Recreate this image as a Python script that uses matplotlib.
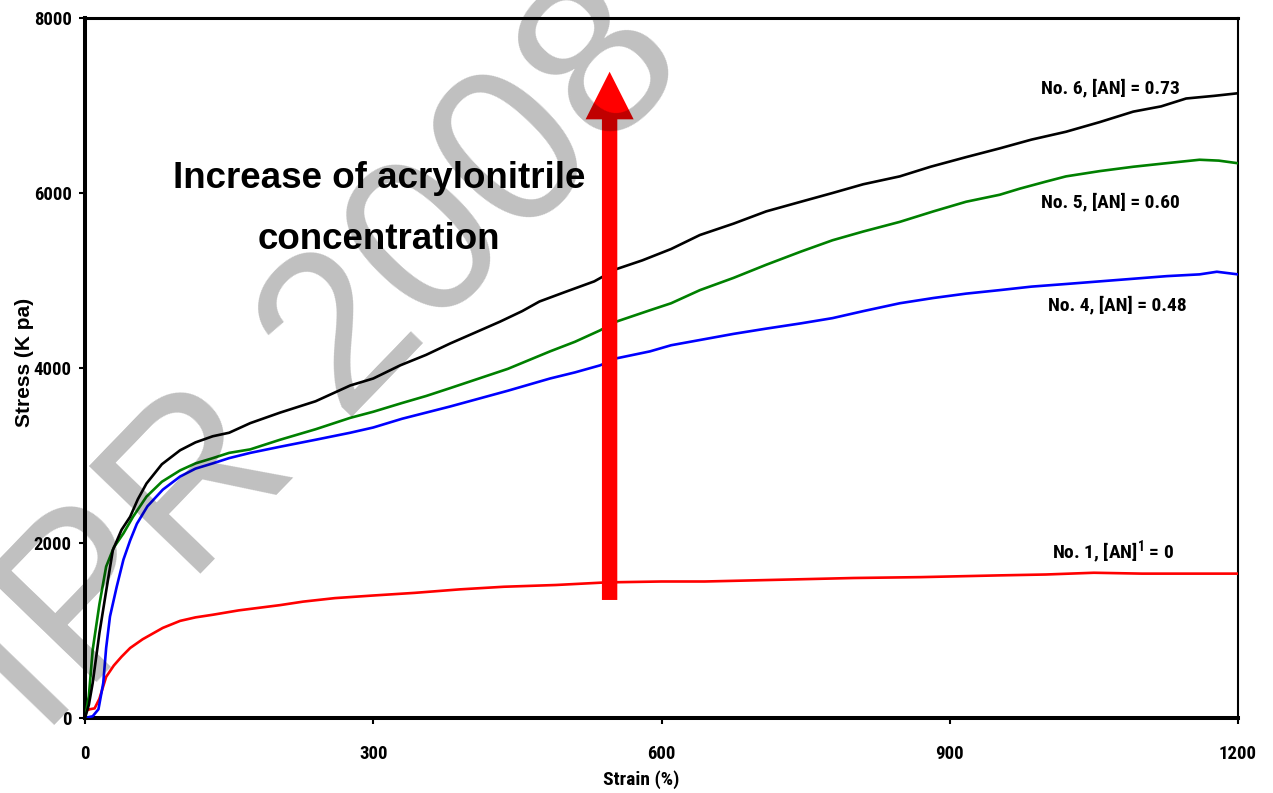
import matplotlib
matplotlib.use("Agg")
import matplotlib.pyplot as plt
from matplotlib import font_manager

# tensile curves (strain %, stress kPa)
strain_no6 = [0, 4, 8, 15, 22, 29, 38, 47, 55, 64, 80, 99, 115, 133, 150, 172, 203, 240, 276, 300,
              328, 355, 380, 405, 432, 455, 473, 500, 530, 553, 580, 610, 640, 675, 709, 745, 778,
              810, 848, 880, 917, 952, 985, 1021, 1056, 1091, 1120, 1146, 1175, 1200]
stress_no6 = [0, 150, 400, 970, 1450, 1920, 2150, 2300, 2500, 2680, 2900, 3060, 3150, 3220, 3260,
              3370, 3490, 3620, 3800, 3880, 4030, 4150, 4280, 4400, 4530, 4650, 4760, 4870, 4990,
              5130, 5230, 5360, 5520, 5650, 5790, 5900, 6000, 6100, 6190, 6300, 6410, 6510, 6610,
              6700, 6810, 6930, 6990, 7080, 7110, 7140]

strain_no5 = [0, 4, 8, 15, 22, 30, 40, 50, 64, 80, 99, 115, 133, 150, 172, 203, 240, 276, 300, 330,
              355, 380, 410, 440, 484, 510, 536, 553, 588, 610, 640, 675, 709, 745, 778, 810, 848,
              883, 917, 952, 973, 1000, 1021, 1056, 1091, 1125, 1160, 1180, 1200]
stress_no5 = [0, 250, 780, 1300, 1730, 1950, 2110, 2300, 2530, 2700, 2830, 2910, 2970, 3030, 3070,
              3180, 3300, 3430, 3500, 3600, 3680, 3770, 3880, 3990, 4190, 4300, 4430, 4530, 4660,
              4740, 4890, 5030, 5180, 5330, 5460, 5560, 5670, 5790, 5900, 5980, 6050, 6130, 6190,
              6250, 6300, 6340, 6380, 6370, 6340]

strain_no4 = [0, 8, 14, 19, 22, 26, 33, 40, 47, 54, 65, 81, 99, 115, 133, 150, 172, 203, 240, 276,
              300, 330, 355, 380, 410, 440, 484, 510, 536, 553, 588, 610, 640, 675, 709, 745, 778,
              810, 848, 883, 917, 952, 985, 1021, 1056, 1091, 1126, 1160, 1178, 1200]
stress_no4 = [0, 20, 100, 400, 800, 1160, 1500, 1810, 2030, 2220, 2420, 2610, 2760, 2850, 2910,
              2970, 3030, 3100, 3180, 3260, 3320, 3420, 3490, 3560, 3650, 3740, 3880, 3950, 4030,
              4110, 4190, 4260, 4320, 4390, 4450, 4510, 4570, 4650, 4740, 4800, 4850, 4890, 4930,
              4960, 4990, 5020, 5050, 5070, 5100, 5070]

strain_no1 = [0, 5, 10, 15, 22, 30, 38, 47, 60, 81, 99, 115, 133, 160, 203, 227, 260, 300, 343,
              390, 436, 490, 543, 600, 645, 723, 800, 870, 952, 1000, 1050, 1100, 1150, 1200]
stress_no1 = [80, 100, 110, 220, 470, 600, 700, 800, 900, 1030, 1110, 1150, 1180, 1230, 1290, 1330,
              1370, 1400, 1430, 1470, 1500, 1520, 1550, 1560, 1560, 1580, 1600, 1610, 1630, 1640,
              1660, 1650, 1650, 1650]

series_labels = ["No. 6, [AN] = 0.73", "No. 5, [AN] = 0.60", "No. 4, [AN] = 0.48",
                 "No. 1, [AN]$^{1}$ = 0"]
x_ticks = [0, 300, 600, 900, 1200]
y_ticks = [0, 2000, 4000, 6000, 8000]

# the original uses a condensed bold face; take one if present, else shrink Arial-like text
installed = {f.name for f in font_manager.fontManager.ttflist}
narrow, small = "Liberation Sans", 12
for cand in ["Liberation Sans Narrow", "DejaVu Sans Condensed", "Roboto Condensed",
             "Open Sans Condensed"]:
    if cand in installed:
        narrow, small = cand, 14
        break

plt.rcParams["mathtext.fontset"] = "custom"
plt.rcParams["mathtext.rm"] = f"{narrow}:bold"
plt.rcParams["mathtext.it"] = f"{narrow}:bold"
plt.rcParams["mathtext.bf"] = f"{narrow}:bold"

fig = plt.figure(figsize=(12.73, 7.93), dpi=100)
ax = fig.add_axes([85 / 1273, 75 / 793, 1153 / 1273, 700 / 793])

ax.plot(strain_no1, stress_no1, color="#ff0000", lw=1.9, zorder=3)
ax.plot(strain_no4, stress_no4, color="#0000ff", lw=1.9, zorder=3)
ax.plot(strain_no5, stress_no5, color="#008000", lw=1.9, zorder=3)
ax.plot(strain_no6, stress_no6, color="black", lw=1.9, zorder=3)

ax.set_xlim(0, 1200)
ax.set_ylim(0, 8000)
ax.set_xticks(x_ticks)
ax.set_yticks(y_ticks)
ax.tick_params(direction="out", length=4.5, width=1.5, labelsize=small - 0.5)
ax.tick_params(axis="x", pad=15)
ax.tick_params(axis="y", pad=5)
for lab in ax.get_xticklabels() + ax.get_yticklabels():
    lab.set_fontfamily(narrow)
    lab.set_fontweight("bold")

ax.spines["left"].set_linewidth(2.9)
ax.spines["bottom"].set_linewidth(2.9)
ax.spines["top"].set_linewidth(2.2)
ax.spines["right"].set_linewidth(1.5)

fig.text(641 / 1273, 1 - 780 / 793, "Strain (%)", ha="center", va="center",
         family=narrow, weight="bold", fontsize=small)
fig.text(25 / 1273, 1 - 362 / 793, "Stress (K pa)", ha="center", va="center", rotation=90,
         family="Liberation Sans", weight="bold", fontsize=15)

label_pos = [(1067, 7200), (1067, 5897), (1074, 4720), (1070, 1897)]
for (lx, ly), txt in zip(label_pos, series_labels):
    ax.text(lx, ly, txt, ha="center", va="center", family=narrow, weight="bold", fontsize=small)

ax.text(306, 6057, "Increase of acrylonitrile", ha="center", va="baseline",
        family="Liberation Sans", weight="bold", fontsize=26.5)
ax.text(306, 5360, "concentration", ha="center", va="baseline",
        family="Liberation Sans", weight="bold", fontsize=26.5)

ax.arrow(546, 1349, 0, 7386 - 1349, width=16, head_width=50, head_length=544,
         length_includes_head=True, color="#ff0000", lw=0, zorder=5)

# watermark, drawn over everything like a multiply layer
fig.text(325 / 1273, 1 - 362 / 793, "IPR 2008", ha="center", va="center", rotation=46,
         rotation_mode="anchor", family="Liberation Sans", fontsize=162,
         color="black", alpha=0.25, zorder=10)

fig.savefig("out.png", dpi=100)
